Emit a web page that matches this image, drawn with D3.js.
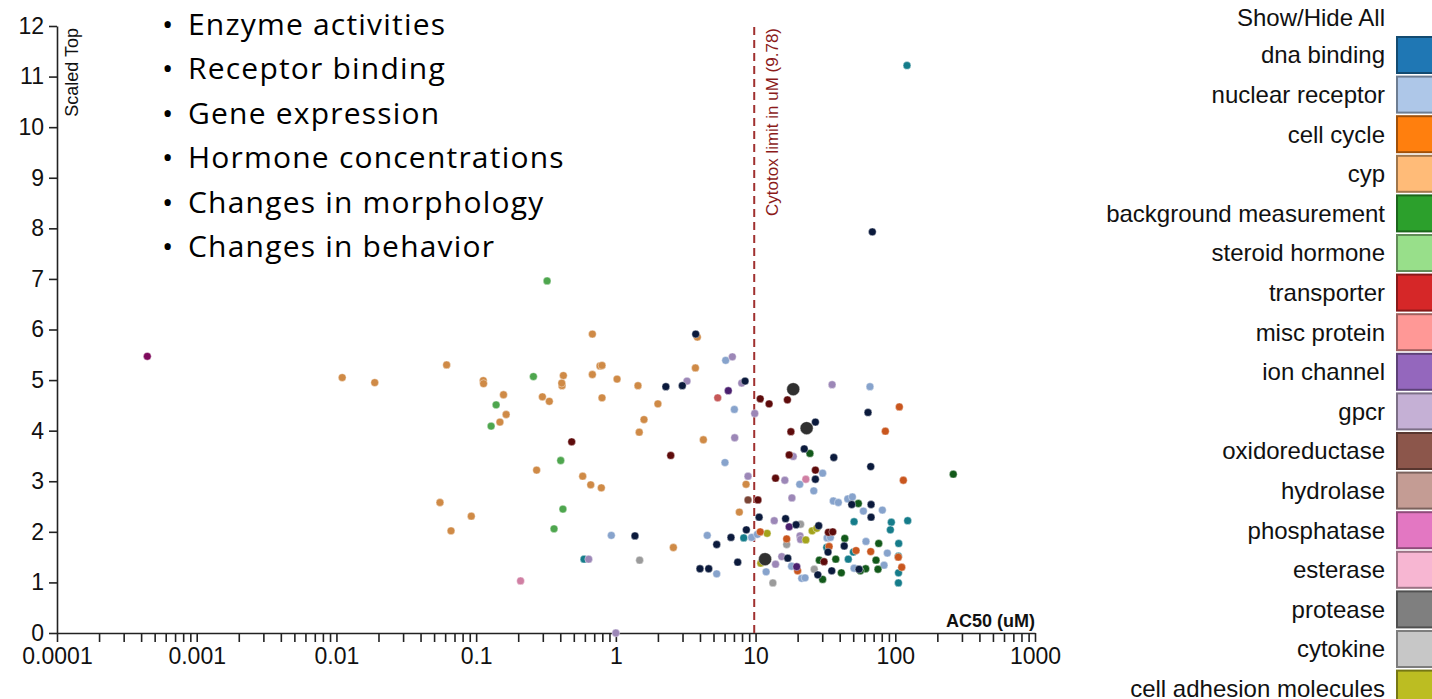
<!DOCTYPE html>
<html>
<head>
<meta charset="utf-8">
<script src="https://cdn.jsdelivr.net/npm/d3@7"></script>
<style>
  body { margin: 0; background: #fff; }
  text { font-family: "Liberation Sans", Arial, sans-serif; }
</style>
</head>
<body>
<svg id="chart" width="1432" height="699"></svg>
<script>
// legend categories, top to bottom (list is cut off by the bottom edge)
var categories = [
  "dna binding", "nuclear receptor", "cell cycle", "cyp",
  "background measurement", "steroid hormone", "transporter", "misc protein",
  "ion channel", "gpcr", "oxidoreductase", "hydrolase", "phosphatase",
  "esterase", "protease", "cytokine", "cell adhesion molecules"
];
var legendColors = [
  "#1f77b4", "#aec7e8", "#ff7f0e", "#ffbb78", "#2ca02c", "#98df8a",
  "#d62728", "#ff9896", "#9467bd", "#c5b0d5", "#8c564b", "#c49c94",
  "#e377c2", "#f7b6d2", "#7f7f7f", "#c7c7c7", "#bcbd22"
];
// darker shades used for the dots
var dotColors = {
  "dna binding": "#0b1a3c", "nuclear receptor": "#87a3cc", "cell cycle": "#c9561e",
  "cyp": "#cf8a46", "background measurement": "#12591a", "steroid hormone": "#4ea64e",
  "transporter": "#5e0b0b", "misc protein": "#c65858", "ion channel": "#4a1f6e",
  "gpcr": "#9c87b7", "oxidoreductase": "#7a4536", "hydrolase": "#a9837b",
  "phosphatase": "#7e0a5c", "esterase": "#d07fa3", "protease": "#303030",
  "cytokine": "#9b9b9b", "cell adhesion molecules": "#a3a31c", "other": "#157c8a"
};

// [AC50 (uM), scaled top]
var dnaBinding = [[3.73,5.91],[2.28,4.87],[2.99,4.89],[1.37,1.92],[4.0,1.27],[4.62,1.27],[68.5,7.93],[8.41,4.98],[63.8,4.36],[26.8,4.17],[22.3,3.64],[36.3,3.47],[66.7,3.29],[26.8,3.04],[48.8,2.54],[67.1,2.54],[10.6,2.29],[16.4,2.26],[67.1,2.29],[19.5,2.14],[28.3,2.12],[8.59,2.04],[6.67,1.89],[5.27,1.75],[43.1,1.72],[33.0,1.60],[17.0,1.48],[7.45,1.40],[27.9,1.15],[35.1,1.23],[55.0,1.26]];
var nuclearReceptor = [[0.928,1.93],[6.11,5.39],[65.9,4.87],[7.05,4.42],[6.04,3.37],[30.2,3.16],[20.7,2.94],[26.1,2.81],[36.0,2.61],[39.1,2.58],[45.7,2.65],[49.3,2.69],[59.1,2.41],[80.8,2.43],[9.38,1.89],[10.3,1.95],[4.51,1.93],[32.5,1.88],[34.3,1.89],[61.7,1.81],[11.9,1.21],[18.1,1.32],[21.4,1.08],[22.6,1.09],[50.7,1.28],[87.7,1.58],[83.1,1.34],[5.27,1.17]];
var cellCycle = [[106.9,4.47],[84.9,3.99],[114.2,3.02],[10.8,2.00],[16.7,1.86],[33.6,1.71],[20.0,1.23],[52.4,1.63],[66.7,1.61],[105.1,1.50],[111.2,1.30]];
var cyp = [[0.0110,5.05],[0.0188,4.95],[0.0615,5.30],[0.1125,4.99],[0.113,4.93],[0.157,4.71],[0.164,4.32],[0.148,4.17],[0.0551,2.58],[0.0923,2.31],[0.0661,2.02],[0.679,5.91],[3.83,5.85],[3.71,5.24],[0.421,5.09],[0.679,5.11],[0.770,5.28],[0.796,5.29],[0.412,4.89],[0.41,4.94],[1.02,5.02],[1.44,4.89],[0.298,4.67],[0.334,4.58],[0.796,4.65],[2.00,4.53],[1.59,4.22],[1.47,3.97],[0.271,3.22],[0.579,3.10],[0.661,2.93],[0.787,2.87],[2.58,1.69],[4.23,3.82],[8.55,2.94],[7.65,2.39]];
var backgroundMeasurement = [[24.5,3.55],[260,3.14],[54.4,2.56],[43.5,1.87],[76.1,1.77],[30.2,1.06],[28.6,1.44],[37.5,1.46],[41.1,1.19],[61.4,1.27],[56.2,1.23],[72.8,1.44],[75.2,1.26]];
var steroidHormone = [[0.139,4.51],[0.128,4.09],[0.322,6.96],[0.257,5.07],[0.403,3.41],[0.418,2.45],[0.361,2.06]];
var transporter = [[0.483,3.78],[2.47,3.51],[10.8,4.63],[12.5,4.53],[16.9,4.61],[17.9,3.98],[17.4,3.52],[26.8,3.22],[13.9,3.06],[10.4,2.63],[33.2,1.99],[35.7,2.00],[30.9,1.41]];
var miscProtein = [[5.36,4.65]];
var ionChannel = [[6.38,4.79],[17.4,2.10],[19.7,1.31]];
var gpcr = [[3.23,4.98],[0.639,1.46],[1.0,0],[6.82,5.46],[7.96,4.94],[35.3,4.91],[9.86,4.34],[7.09,3.86],[18.6,3.49],[8.83,3.10],[16.2,3.02],[18.2,2.67],[13.6,2.22],[20.8,1.92],[21.0,1.85],[15.4,1.51],[13.9,1.36]];
var oxidoreductase = [[8.83,2.63]];
var phosphatase = [[0.000443,5.47]];
var esterase = [[0.208,1.03],[22.9,3.04]];
var protease = [[18.6,4.82],[23.2,4.05],[11.7,1.46]];
var cytokine = [[1.48,1.44],[21.0,2.15],[16.7,1.75],[26.3,1.26],[13.3,0.99]];
var cellAdhesion = [[25.4,2.02],[27.4,2.07],[12.1,1.97],[22.9,1.84],[10.9,1.38]];
var other = [[0.592,1.46],[121.3,11.22],[50.7,2.20],[93.7,2.19],[122.7,2.22],[92.2,2.04],[8.23,1.88],[105.8,1.77],[32.3,1.69],[46.1,1.46],[50.1,1.60],[105.3,1.52],[105.5,1.19],[105.3,0.99]];

var xTickLabels = [0.0001, 0.001, 0.01, 0.1, 1, 10, 100, 1000];
var yTickValues = [0, 1, 2, 3, 4, 5, 6, 7, 8, 9, 10, 11, 12];
var cytotoxLimit = 9.78;
var bullets = [
  "Enzyme activities", "Receptor binding", "Gene expression",
  "Hormone concentrations", "Changes in morphology", "Changes in behavior"
];

var series = [
  ["other", other], ["cyp", cyp], ["steroid hormone", steroidHormone],
  ["nuclear receptor", nuclearReceptor], ["gpcr", gpcr], ["cytokine", cytokine],
  ["esterase", esterase], ["misc protein", miscProtein], ["phosphatase", phosphatase],
  ["oxidoreductase", oxidoreductase], ["cell adhesion molecules", cellAdhesion],
  ["cell cycle", cellCycle], ["background measurement", backgroundMeasurement],
  ["transporter", transporter], ["ion channel", ionChannel], ["dna binding", dnaBinding],
  ["protease", protease]
];
var points = [];
series.forEach(function (s) {
  s[1].forEach(function (p) {
    points.push({ cat: s[0], ac50: p[0], top: p[1] });
  });
});

var svg = d3.select("#chart");

var x = d3.scaleLog().domain([0.0001, 1000]).range([57, 1035]);
var y = d3.scaleLinear().domain([0, 12]).range([633, 26]);

var xAxis = d3.axisBottom(x)
  .tickValues(x.ticks())
  .tickSize(9)
  .tickSizeOuter(0)
  .tickPadding(6)
  .tickFormat(function (d) {
    var hit = xTickLabels.find(function (v) { return Math.abs(v - d) < v * 1e-6; });
    return hit === undefined ? "" : String(hit);
  });

var yAxis = d3.axisLeft(y)
  .tickValues(yTickValues)
  .tickSize(8)
  .tickSizeOuter(0)
  .tickPadding(5);

var gx = svg.append("g").attr("transform", "translate(0,633)").call(xAxis);
var gy = svg.append("g").attr("transform", "translate(57,0)").call(yAxis);

[gx, gy].forEach(function (g) {
  g.selectAll("path, line").attr("stroke", "#222").attr("stroke-width", 1.6);
  g.selectAll("text")
    .attr("fill", "#111")
    .style("font-size", "23px")
    .style("font-family", "'Liberation Sans', Arial, sans-serif");
});

// axis titles
svg.append("text")
  .attr("transform", "translate(78,28)rotate(-90)")
  .attr("text-anchor", "end")
  .style("font-size", "18px")
  .attr("fill", "#111")
  .text("Scaled Top");

svg.append("text")
  .attr("x", 1035)
  .attr("y", 627)
  .attr("text-anchor", "end")
  .style("font-size", "18px")
  .style("font-weight", "bold")
  .attr("fill", "#111")
  .text("AC50 (uM)");

// cytotox limit
svg.append("line")
  .attr("x1", x(cytotoxLimit))
  .attr("x2", x(cytotoxLimit))
  .attr("y1", y(12) + 1)
  .attr("y2", y(0))
  .attr("stroke", "#a0302f")
  .attr("stroke-width", 2)
  .attr("stroke-dasharray", "8,5");

svg.append("text")
  .attr("transform", "translate(" + (x(cytotoxLimit) + 24) + ",28)rotate(-90)")
  .attr("text-anchor", "end")
  .style("font-size", "17px")
  .attr("fill", "#8b1a1a")
  .text("Cytotox limit in uM (" + cytotoxLimit + ")");

// dots
svg.append("g")
  .selectAll("circle")
  .data(points)
  .enter()
  .append("circle")
  .attr("cx", function (d) { return x(d.ac50); })
  .attr("cy", function (d) { return y(d.top); })
  .attr("r", function (d) { return d.cat === "protease" ? 6.5 : 3.9; })
  .attr("fill", function (d) { return dotColors[d.cat]; })
  .attr("stroke", "#fff")
  .attr("stroke-opacity", 0.5)
  .attr("stroke-width", 0.8);

// bullet list
var bl = svg.append("g");
bullets.forEach(function (b, i) {
  var by = 35 + i * 44.4;
  bl.append("text")
    .attr("x", 162)
    .attr("y", by)
    .style("font-family", "'Open Sans', Lato, sans-serif")
    .style("font-size", "30px")
    .attr("fill", "#000")
    .text("\u2022");
  bl.append("text")
    .attr("x", 188)
    .attr("y", by)
    .style("font-family", "'Open Sans', Lato, sans-serif")
    .style("font-size", "30px")
    .style("letter-spacing", "1.2px")
    .attr("fill", "#000")
    .text(b);
});

// legend
var lg = svg.append("g");
lg.append("text")
  .attr("x", 1385)
  .attr("y", 26)
  .attr("text-anchor", "end")
  .style("font-size", "24px")
  .attr("fill", "#111")
  .text("Show/Hide All");

categories.forEach(function (c, i) {
  var top = 37 + i * 39.6;
  lg.append("rect")
    .attr("x", 1397)
    .attr("y", top)
    .attr("width", 40)
    .attr("height", 36)
    .attr("fill", legendColors[i])
    .attr("stroke", d3.color(legendColors[i]).darker(1.3))
    .attr("stroke-width", 2);
  lg.append("text")
    .attr("x", 1385)
    .attr("y", top + 18)
    .attr("dy", "0.35em")
    .attr("text-anchor", "end")
    .style("font-size", "24px")
    .attr("fill", "#111")
    .text(c);
});
</script>
</body>
</html>
